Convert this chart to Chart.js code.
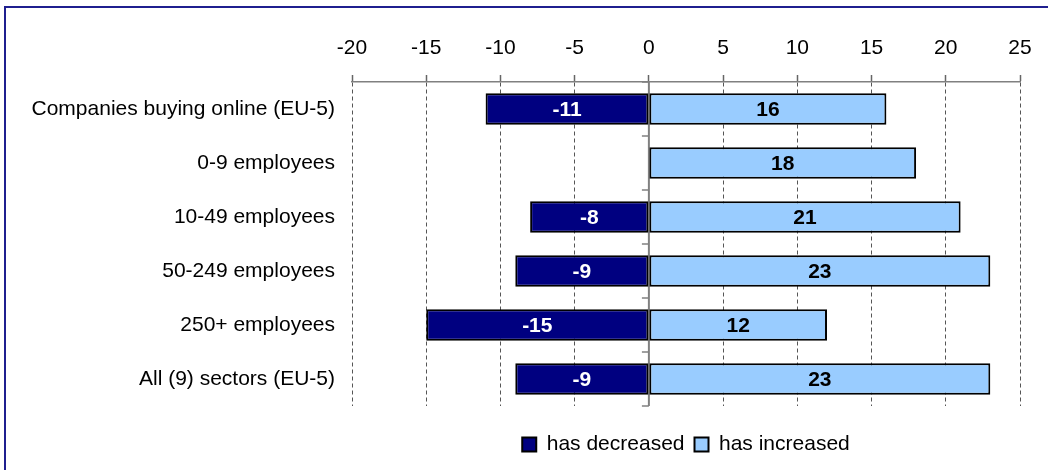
<!DOCTYPE html>
<html>
<head>
<meta charset="utf-8">
<title>Online buying by company size</title>
<script src="https://cdn.jsdelivr.net/npm/chart.js@4.4.0/dist/chart.umd.min.js"></script>
<style>
  html, body { margin: 0; padding: 0; background: #fff; overflow: hidden; }
  #wrap { position: relative; width: 1048px; height: 470px; overflow: hidden; }
  #frame {
    position: absolute; left: 4px; top: 6px; width: 1100px; height: 520px;
    border: 2px solid #1f1f8f; box-sizing: border-box; pointer-events: none;
  }
  canvas { position: absolute; left: 0; top: 0; }
</style>
</head>
<body>
<div id="wrap">
  <canvas id="sizeChart" width="1048" height="470"></canvas>
  <div id="frame"></div>
</div>
<script>
const categories = [
  "Companies buying online (EU-5)",
  "0-9 employees",
  "10-49 employees",
  "50-249 employees",
  "250+ employees",
  "All (9) sectors (EU-5)"
];
// share of companies, in % points
const decreased = [-11, null, -8, -9, -15, -9];
const increased = [16, 18, 21, 23, 12, 23];
const xMin = -20;
const xMax = 25;
const xStep = 5;

const FONT = "'Liberation Sans', Arial, sans-serif";

// value labels in the middle of every bar segment
const barLabels = {
  id: "barLabels",
  afterDatasetsDraw(chart) {
    const ctx = chart.ctx;
    ctx.save();
    ctx.font = "bold 21px " + FONT;
    ctx.textAlign = "center";
    ctx.textBaseline = "middle";
    chart.data.datasets.forEach((ds, di) => {
      const meta = chart.getDatasetMeta(di);
      meta.data.forEach((bar, i) => {
        const v = ds.data[i];
        if (v === null || v === undefined) return;
        const p = bar.getProps(["x", "y", "base"], true);
        ctx.fillStyle = ds.labelColor;
        ctx.fillText(String(v), (p.x + p.base) / 2, p.y + 1);
      });
    });
    ctx.restore();
  }
};

// solid zero line with small category tick marks on its left side
const zeroAxis = {
  id: "zeroAxis",
  beforeDatasetsDraw(chart) {
    const { ctx, chartArea, scales } = chart;
    const x0 = scales.x.getPixelForValue(0);
    const n = categories.length;
    const band = (chartArea.bottom - chartArea.top) / n;
    ctx.save();
    ctx.strokeStyle = "#808080";
    ctx.lineWidth = 2;
    ctx.beginPath();
    ctx.moveTo(x0, chartArea.top);
    ctx.lineTo(x0, chartArea.bottom);
    ctx.stroke();
    ctx.lineWidth = 1.5;
    for (let k = 0; k <= n; k++) {
      const yy = Math.round(chartArea.top + k * band);
      ctx.beginPath();
      ctx.moveTo(x0 - 7, yy);
      ctx.lineTo(x0, yy);
      ctx.stroke();
    }
    ctx.restore();
  }
};

new Chart(document.getElementById("sizeChart"), {
  type: "bar",
  data: {
    labels: categories,
    datasets: [
      {
        label: "has decreased",
        data: decreased,
        backgroundColor: "#000080",
        borderColor: "#000000",
        borderWidth: 2,
        borderSkipped: false,
        labelColor: "#ffffff"
      },
      {
        label: "has increased",
        data: increased,
        backgroundColor: "#99ccff",
        borderColor: "#000000",
        borderWidth: 2,
        borderSkipped: false,
        labelColor: "#000000"
      }
    ]
  },
  options: {
    indexAxis: "y",
    responsive: false,
    animation: false,
    barPercentage: 0.58,
    categoryPercentage: 1,
    layout: { padding: { left: 0, right: 28, top: 0, bottom: 5 } },
    scales: {
      x: {
        position: "top",
        stacked: true,
        min: xMin,
        max: xMax,
        afterFit(scale) { scale.height = 82; },
        ticks: {
          stepSize: xStep,
          color: "#000",
          padding: 14,
          font: { family: FONT, size: 21 }
        },
        grid: {
          color: "#555",
          lineWidth: 1,
          tickLength: 7,
          tickColor: "#666",
          tickWidth: 1.5
        },
        border: { display: true, color: "#808080", width: 1.5, dash: [4, 3] }
      },
      y: {
        stacked: true,
        afterFit(scale) { scale.width = 352; },
        grid: { display: false, drawTicks: false },
        border: { display: false },
        ticks: {
          color: "#000",
          padding: 17,
          font: { family: FONT, size: 21 }
        }
      }
    },
    plugins: {
      tooltip: { enabled: false },
      legend: {
        position: "bottom",
        fullSize: false,
        // empty title only adds space between the plot and the legend row
        title: { display: true, text: "", font: { size: 10 }, padding: { top: 6, bottom: 0 } },
        labels: {
          color: "#000",
          boxWidth: 14,
          boxHeight: 14,
          padding: 10,
          font: { family: FONT, size: 21 }
        }
      }
    }
  },
  plugins: [zeroAxis, barLabels]
});
</script>
</body>
</html>
